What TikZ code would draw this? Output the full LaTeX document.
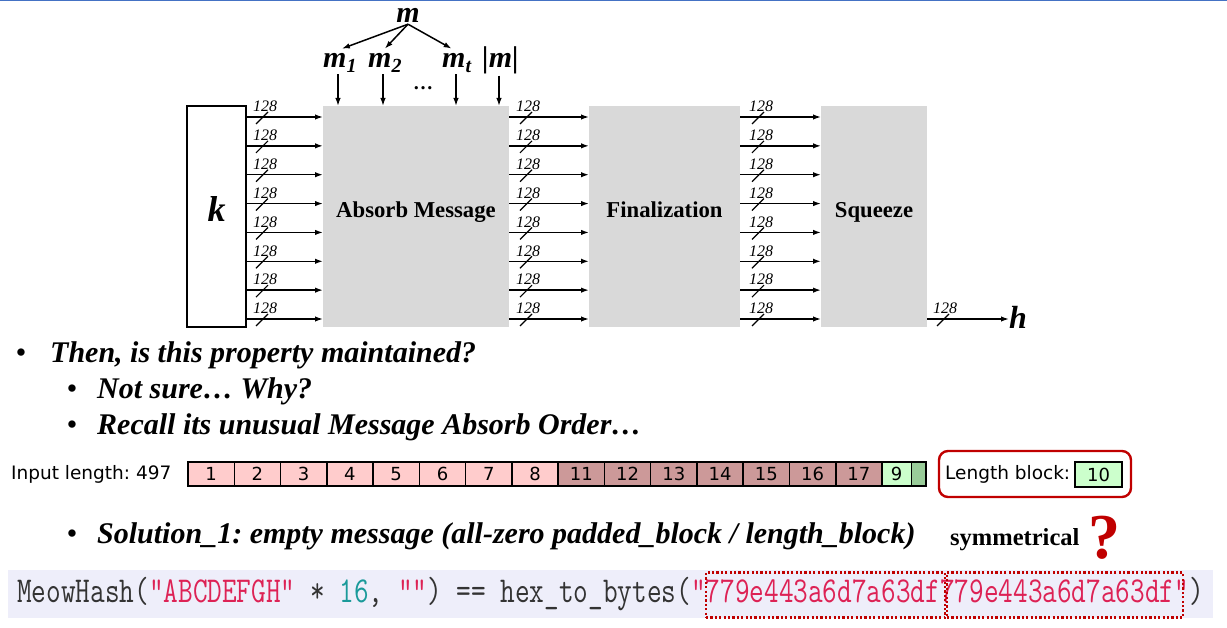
\documentclass[tikz,border=0pt]{standalone}
\usepackage{fontspec}
\setmainfont{Liberation Serif}
\newfontfamily\dejavu{DejaVu Sans}
\usetikzlibrary{arrows.meta}
\frenchspacing
\definecolor{boxgray}{HTML}{D9D9D9}
\definecolor{pinkc}{HTML}{FFCCCC}
\definecolor{rosec}{HTML}{CC9999}
\definecolor{greenc}{HTML}{CCFFCC}
\definecolor{dgreenc}{HTML}{99CC99}
\definecolor{qred}{HTML}{C00000}
\definecolor{codebg}{HTML}{EEEEFA}
\definecolor{strred}{HTML}{DD2255}
\definecolor{numteal}{HTML}{1A9A9A}
\definecolor{codetext}{HTML}{333333}
\definecolor{topblue}{HTML}{4472C4}
\newcommand\fsz[1]{\fontsize{#1}{#1}\selectfont}
\newcommand\msubl[2]{#1\raisebox{-5pt}{\fsz{20}#2}}
\begin{document}
\begin{tikzpicture}[x=1pt,y=-1pt,
  arr/.style={line width=1.5pt,-{Latex[length=8pt,width=5.5pt]}},
  slashline/.style={line width=1.2pt},
  buslab/.style={font=\fsz{16}\itshape,inner sep=0pt},
  stage/.style={fill=boxgray,inner sep=0pt,outer sep=0pt,text height=10pt,text depth=8pt,font=\fsz{22.7}\bfseries},
  mfont/.style={font=\fsz{30}\bfseries\itshape,inner sep=1pt},
  bullet/.style={font=\fsz{27}\bfseries,inner sep=0pt,anchor=base},
  btext/.style={font=\fsz{30}\bfseries\itshape,inner sep=0pt,anchor=base west},
  cell/.style={draw,line width=1.5pt,minimum height=24pt,inner sep=0pt,outer sep=0pt,font=\dejavu\fsz{18}},
  dotbox/.style={draw=qred,line width=2.2pt,dash pattern=on 2.2pt off 2.2pt,inner sep=0pt}]
\useasboundingbox (0,0) rectangle (1227,628);
\draw[topblue,line width=1.5pt] (0,0.75) -- (1227,0.75);

% main boxes
\node[draw,line width=1.3pt,inner sep=0pt,outer sep=0pt,minimum width=59pt,minimum height=221pt,text height=11pt,text depth=0pt,font=\fsz{36}\bfseries\itshape] (k) at (216.5,216.5) {k};
\node[stage,minimum width=186pt,minimum height=221pt] (abs) at (416,216.5) {Absorb Message};
\node[stage,minimum width=151pt,minimum height=221pt] (fin) at (664.5,216.5) {Finalization};
\node[stage,minimum width=106pt,minimum height=221pt] (sq) at (874,216.5) {Squeeze};

% bus arrows
\foreach \i in {0,...,7}{
  \pgfmathsetmacro\yy{117+28.857*\i}
  \draw[arr] (k.east |- 0,\yy) -- (abs.west |- 0,\yy);
  \draw[slashline] (256,\yy+7) -- (268,\yy-5);
  \node[buslab] (la\i) at (265,\yy-10.5) {128};
  \draw[arr] (abs.east |- 0,\yy) -- (fin.west |- 0,\yy);
  \draw[slashline] (520,\yy+7) -- (532,\yy-5);
  \node[buslab] (lb\i) at (528,\yy-10.5) {128};
  \draw[arr] (fin.east |- 0,\yy) -- (sq.west |- 0,\yy);
  \draw[slashline] (752,\yy+7) -- (764,\yy-5);
  \node[buslab] (lc\i) at (761,\yy-10.5) {128};
}
% output
\node[font=\fsz{32}\bfseries\itshape,inner sep=0pt,anchor=base west] (h) at (1009,329) {h};
\draw[arr] (sq.east |- 0,319) -- (h.west |- 0,319);
\draw[slashline] (937,326) -- (949,314);
\node[buslab] (ld) at (945,308.5) {128};

% message tree
\node[mfont,anchor=base] (m) at (408,23) {m};
\node[mfont,anchor=base west] (m1) at (322,68) {\msubl{m}{1}};
\node[mfont,anchor=base west] (m2) at (367,68) {\msubl{m}{2}};
\node[mfont,anchor=base west] (mt) at (441,68) {\msubl{m}{t}};
\node[mfont,anchor=base west] (mlen) at (481,68) {|m|};
\node[font=\fsz{20}\bfseries,inner sep=0pt] (dots) at (423,88) {…};
\draw[arr] (m.south) -- ([xshift=2pt,yshift=4pt]m1.north);
\draw[arr] (m.south) -- ([yshift=4pt]m2.north);
\draw[arr] (m.south) -- ([xshift=-5pt,yshift=4pt]mt.north);
\draw[arr] (m1.south -| 338,0) -- (338,0 |- abs.north);
\draw[arr] (m2.south -| 383,0) -- (383,0 |- abs.north);
\draw[arr] (mt.south -| 456,0) -- (456,0 |- abs.north);
\draw[arr] (mlen.south -| 499,0) -- (499,0 |- abs.north);

% bullets
\node[bullet] (bu1) at (21,362) {•};
\node[btext] (t1) at (50,363) {Then, is this property maintained?};
\node[bullet] (bu2) at (72,398) {•};
\node[btext] (t2) at (97,399) {Not sure… Why?};
\node[bullet] (bu3) at (72,434) {•};
\node[btext] (t3) at (97,435) {Recall its unusual Message Absorb Order…};
\node[bullet] (bu4) at (72,542) {•};
\node[btext] (t4) at (97,543) {Solution\_1: empty message (all-zero padded\_block / length\_block)};
\node[font=\fsz{24.5}\bfseries,inner sep=0pt,anchor=base west] (sym) at (950,545) {symmetrical};
\node[font=\fsz{64}\bfseries,text=qred,inner sep=0pt,anchor=base] (qm) at (1104,558) {?};

% block row
\node[font=\dejavu\fsz{18.5},inner sep=0pt,anchor=west] (inlen) at (11,474) {Input length: 497};
\foreach \lab [count=\i from 0] in {1,2,3,4,5,6,7,8}{
  \node[cell,fill=pinkc,minimum width=46.27pt] (c\lab) at (211.135+46.27*\i,474) {\lab};
}
\foreach \lab [count=\i from 8] in {11,12,13,14,15,16,17}{
  \node[cell,fill=rosec,minimum width=46.27pt] (c\lab) at (211.135+46.27*\i,474) {\lab};
}
\node[cell,fill=greenc,minimum width=29.3pt] (c9) at (896.7,474) {9};
\node[cell,fill=dgreenc,minimum width=14.8pt] (cpad) at (918.75,474) {};
\node[draw=qred,line width=2.4pt,rounded corners=9pt,minimum width=192pt,minimum height=46pt,inner sep=0pt] (lbf) at (1035,474) {};
\node[font=\dejavu\fsz{18.5},inner sep=0pt,anchor=west] (lbt) at (945,474) {Length block:};
\node[cell,fill=greenc,minimum width=47pt,minimum height=25pt] (c10) at (1098.5,474.5) {10};

% code line
\node[fill=codebg,inner sep=0pt,minimum width=1205pt,minimum height=48pt,anchor=west] (band) at (8,594) {};
\node[inner sep=0pt,anchor=west,text=codetext] (code) at (17,594) {\scalebox{1}[1.28]{\ttfamily\fsz{28.45}MeowHash(\textcolor{strred}{"ABCDEFGH"} * \textcolor{numteal}{16}, \textcolor{strred}{""}) == hex\_to\_bytes(\textcolor{strred}{"779e443a6d7a63df779e443a6d7a63df"})}};
\node[dotbox,minimum width=239pt,minimum height=45pt] (hex1) at (825.5,595) {};
\node[dotbox,minimum width=236pt,minimum height=45pt] (hex2) at (1065,595) {};
\end{tikzpicture}
\end{document}
